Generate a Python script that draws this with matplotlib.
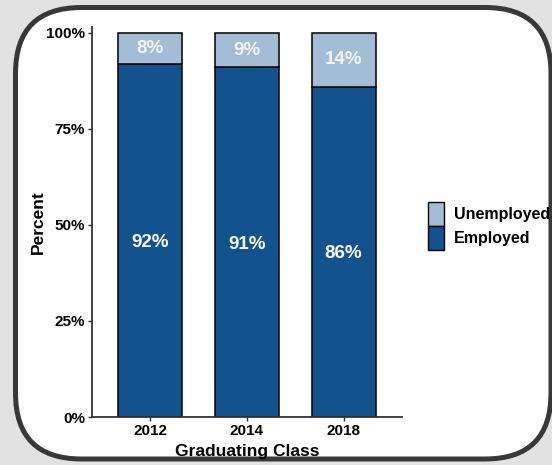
import matplotlib
matplotlib.use("Agg")
import matplotlib.pyplot as plt
from matplotlib.patches import FancyBboxPatch, Patch
from matplotlib.ticker import FuncFormatter

# Data
classes = ["2012", "2014", "2018"]
employed = [92, 91, 86]
unemployed = [8, 9, 14]

emp_color = "#11528f"
unemp_color = "#a3bdd7"

plt.rcParams["font.family"] = ["Liberation Sans", "DejaVu Sans"]
plt.rcParams["font.weight"] = "bold"

fig = plt.figure(figsize=(5.52, 4.65), dpi=100)
fig.patch.set_facecolor("#e2e2e2")

# rounded frame drawn in pixel-like coordinates
bg = fig.add_axes([0, 0, 1, 1], zorder=-1)
bg.set_xlim(0, 552)
bg.set_ylim(465, 0)
bg.axis("off")
frame = FancyBboxPatch((15.5, 7.5), 535.5, 451.5,
                       boxstyle="round,pad=0,rounding_size=66",
                       facecolor="white", edgecolor="#383838", linewidth=3.6)
bg.add_patch(frame)

ax = fig.add_axes([92 / 552, 48 / 465, 309.7 / 552, 390 / 465])
ax.set_facecolor("white")
x = list(range(1, len(classes) + 1))
ax.bar(x, employed, width=0.66, color=emp_color, edgecolor="black", linewidth=1.1, label="Employed")
ax.bar(x, unemployed, width=0.66, bottom=employed, color=unemp_color,
       edgecolor="black", linewidth=1.1, label="Unemployed")

for xi, e, u in zip(x, employed, unemployed):
    ax.text(xi, e / 2 - 0.5, f"{e}%", ha="center", va="center", color="white",
            fontsize=13.5, fontweight="bold")
    ax.text(xi, e + u / 2, f"{u}%", ha="center", va="center", color="#f2f5f9",
            fontsize=13.5, fontweight="bold")

ax.set_xlim(0.4, 3.6)
ax.set_ylim(0, 101.5)
ax.set_xticks(x)
ax.set_xticklabels(classes)
ax.set_yticks([0, 25, 50, 75, 100])
ax.yaxis.set_major_formatter(FuncFormatter(lambda v, p: f"{int(v)}%"))
ax.tick_params(labelsize=11, length=3, width=1, color="#333333", labelcolor="black", pad=2)
for s in ["top", "right"]:
    ax.spines[s].set_visible(False)
for s in ["left", "bottom"]:
    ax.spines[s].set_color("#333333")
    ax.spines[s].set_linewidth(1.3)

ax.set_xlabel("Graduating Class", fontsize=12.5, fontweight="bold", labelpad=4)
ax.set_ylabel("Percent", fontsize=12.5, fontweight="bold", labelpad=0)

handles = [Patch(facecolor=unemp_color, edgecolor="black", label="Unemployed"),
           Patch(facecolor=emp_color, edgecolor="black", label="Employed")]
fig.legend(handles=handles, loc="center left", bbox_to_anchor=(422 / 552, 1 - 226 / 465),
           frameon=False, fontsize=11.5, handlelength=1.0, handleheight=1.9,
           handletextpad=0.6, labelspacing=0.05, borderaxespad=0)

fig.savefig("out.png", dpi=100, facecolor=fig.get_facecolor())
